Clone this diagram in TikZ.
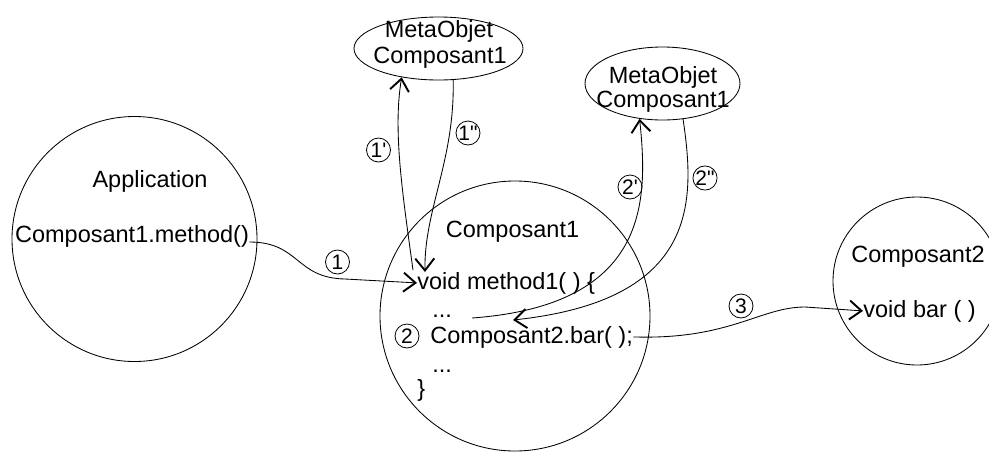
\documentclass[tikz,border=0pt]{standalone}
\usepackage{fontspec}
\setmainfont{Liberation Sans}[Ligatures=TeXOff]
\usetikzlibrary{arrows.meta,shapes.geometric}
\begin{document}
\begin{tikzpicture}[x=1pt,y=-1pt,line width=0.85pt,
  txt/.style={inner sep=0pt,font=\fontsize{23.5}{28}\selectfont},
  num/.style={circle,draw,line width=0.8pt,inner sep=0pt,minimum size=24pt,font=\fontsize{21}{21}\selectfont},
  bubble/.style={circle,draw,inner sep=0pt},
  meta/.style={ellipse,draw,inner sep=0pt},
  conn/.style={-{Straight Barb[length=12pt,width=19pt,line width=1.9pt]}}]
\useasboundingbox (0,0) rectangle (989,451);
\clip (0,0) rectangle (989,451);

% shapes
\node[bubble,minimum size=245pt] (app) at (134.5,239) {};
\node[bubble,minimum size=270pt] (c1) at (515,316) {};
\node[bubble,minimum size=168pt] (c2) at (917,281) {};
\node[meta,minimum width=169pt,minimum height=63pt] (meta1) at (438.5,48.5) {};
\node[meta,minimum width=155pt,minimum height=73pt] (meta2) at (662.5,83.5) {};

% texts
\node[txt,anchor=base] (apptitle) at (150,187) {Application};
\node[txt,anchor=base] (appcall) at (132,242) {Composant1.method()};
\node[txt,anchor=base] (c1title) at (512.5,237) {Composant1};
\node[txt,anchor=base west] (m1) at (417,289) {void method1( ) \{};
\node[txt,anchor=base west] (dots1) at (432,317) {...};
\node[txt,anchor=base west] (bar) at (430,343) {Composant2.bar( );};
\node[txt,anchor=base west] (dots2) at (432,372) {...};
\node[txt,anchor=base west] (close) at (417,396) {\}};
\node[txt,anchor=base] (c2title) at (918,262) {Composant2};
\node[txt,anchor=base west] (vb) at (863,317) {void bar ( )};
\node[txt,anchor=base] (m1a) at (439,37) {MetaObjet};
\node[txt,anchor=base] (m1b) at (440,63) {Composant1};
\node[txt,anchor=base] (m2a) at (663,83) {MetaObjet};
\node[txt,anchor=base] (m2b) at (663,107) {Composant1};

% step labels
\node[num] (n1) at (337.5,262) {1};
\node[num] (n2) at (407,336) {2};
\node[num] (n3) at (741,306) {3};
\node[num] (n1a) at (378.5,150) {1'};
\node[num] (n1b) at (468,133) {1"};
\node[num] (n2a) at (630,187) {2'};
\node[num] (n2b) at (705,178) {2"};

% free ends
\coordinate (s1) at (413,270);
\coordinate (e1) at (425,272);
\coordinate (s2) at (472,318);
\coordinate (e2) at (513,320);

% connectors
\draw[conn] (appcall.base east) .. controls (300,242) and (295,278) .. (345,279) -- (m1.west);
\draw[conn] (s1) .. controls (402,190) and (393,130) .. (meta1.218);
\draw[conn] (meta1.295) .. controls (455,160) and (424,210) .. (e1);
\draw[conn] (s2) .. controls (650,305) and (648,200) .. (meta2.237);
\draw[conn] (meta2.300) .. controls (695,200) and (700,300) .. (e2);
\draw[conn] (bar.east) .. controls (730,340) and (760,307) .. (805,307) -- (vb.west);
\end{tikzpicture}
\end{document}
